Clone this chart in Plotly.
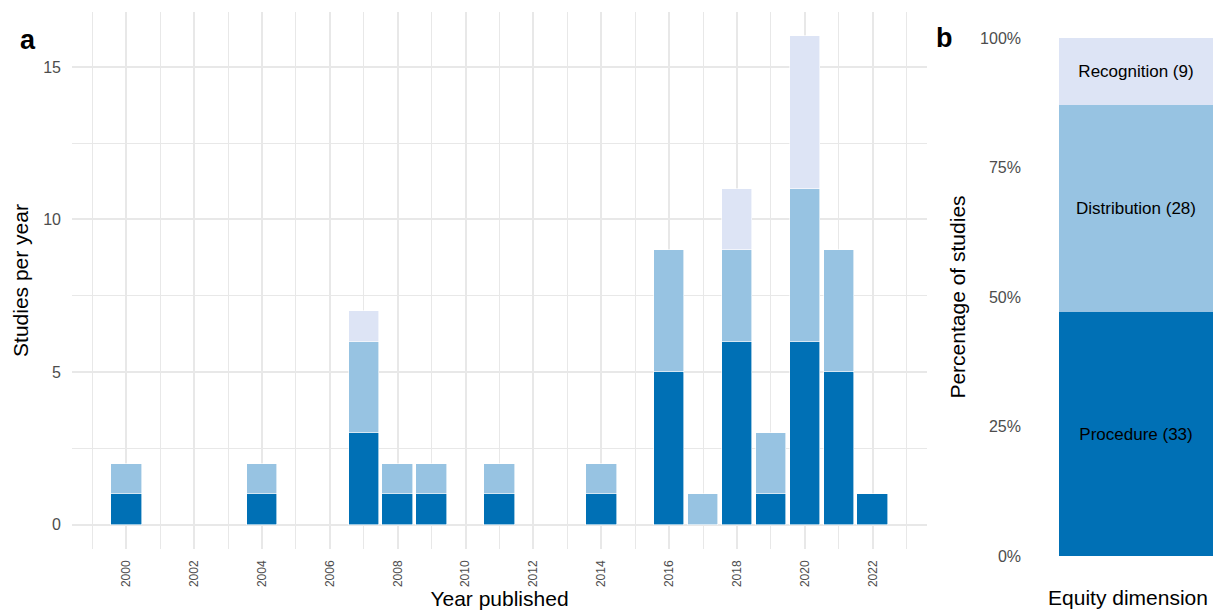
import plotly.graph_objects as go

# Studies per publication year, split by equity dimension
years = [2000, 2004, 2007, 2008, 2009, 2011, 2014, 2016, 2017, 2018, 2019, 2020, 2021, 2022]
procedure = [1, 1, 3, 1, 1, 1, 1, 5, None, 6, 1, 6, 5, 1]
distribution = [1, 1, 3, 1, 1, 1, 1, 4, 1, 3, 2, 5, 4, None]
recognition = [None, None, 1, None, None, None, None, None, None, 2, None, 5, None, None]

# Totals per equity dimension
dimensions = ["Procedure", "Distribution", "Recognition"]
dimension_counts = [33, 28, 9]

# Axis ticks
count_ticks = [0, 5, 10, 15]
pct_ticks = [0, 25, 50, 75, 100]
pct_tick_labels = ["0%", "25%", "50%", "75%", "100%"]

colors = {"Procedure": "#0070B5", "Distribution": "#97C3E2", "Recognition": "#DDE4F5"}

W, H = 1229, 615


def px_x(p):
    return p / W


def px_y(p):
    return 1 - p / H


fig = go.Figure()

for name, vals in zip(dimensions, [procedure, distribution, recognition]):
    fig.add_trace(go.Bar(
        x=years, y=vals, name=name, width=0.9,
        marker=dict(color=colors[name], line=dict(color="white", width=0.6)),
        xaxis="x", yaxis="y", showlegend=False, hoverinfo="x+y+name",
    ))

total = sum(dimension_counts)
for name, cnt in zip(dimensions, dimension_counts):
    fig.add_trace(go.Bar(
        x=[0], y=[cnt / total * 100], name=name, width=1,
        marker=dict(color=colors[name], line=dict(width=0)),
        text=[f"{name} ({cnt})"], textposition="inside", insidetextanchor="middle",
        textangle=0, textfont=dict(color="black", size=17, family="Liberation Sans"),
        xaxis="x2", yaxis="y2", showlegend=False,
    ))

grid = "#E8E8E8"
tick_font = dict(family="Liberation Sans", size=16, color="#4D4D4D")
title_font = dict(family="Liberation Sans", size=21, color="black")
panel_font = dict(family="Liberation Sans", size=27, color="black")

fig.update_layout(
    width=W, height=H,
    margin=dict(l=0, r=0, t=0, b=0),
    paper_bgcolor="white", plot_bgcolor="white",
    barmode="stack", bargap=0,
    font=dict(family="Liberation Sans"),
    xaxis=dict(
        domain=[px_x(72), px_x(927)], range=[1998.4, 2023.6],
        tickmode="linear", tick0=2000, dtick=2, tickangle=-90,
        tickfont=dict(family="Liberation Sans", size=12, color="#4D4D4D"),
        showgrid=True, gridcolor=grid, gridwidth=1.6, zeroline=False,
        minor=dict(tickmode="linear", tick0=1999, dtick=2, showgrid=True, gridcolor=grid, gridwidth=1.1),
        ticks="", ticklabelstandoff=8,
        title=dict(text="Year published", font=title_font, standoff=4),
        anchor="y", automargin=False, fixedrange=True,
    ),
    yaxis=dict(
        domain=[px_y(549), px_y(12)], range=[-0.8, 16.8],
        tickmode="array", tickvals=count_ticks,
        tickfont=tick_font,
        showgrid=True, gridcolor=grid, gridwidth=1.6, zeroline=False,
        minor=dict(tickmode="array", tickvals=[2.5, 7.5, 12.5], showgrid=True, gridcolor=grid, gridwidth=1.1),
        ticks="", ticklabelstandoff=10,
        title=dict(text="Studies per year", font=title_font, standoff=8),
        anchor="x", automargin=False, fixedrange=True,
    ),
    xaxis2=dict(
        domain=[px_x(1027), px_x(1229)], range=[-0.708, 0.604],
        showticklabels=False, showgrid=False, zeroline=False, ticks="",
        title=dict(text="Equity dimension", font=title_font, standoff=8),
        anchor="y2", automargin=False, fixedrange=True,
    ),
    yaxis2=dict(
        domain=[px_y(582), px_y(12)], range=[-5, 105],
        tickmode="array", tickvals=pct_ticks, ticktext=pct_tick_labels,
        tickfont=tick_font, showgrid=False, zeroline=False,
        ticks="", ticklabelstandoff=5,
        title=dict(text="Percentage of studies", font=title_font, standoff=8),
        anchor="x2", automargin=False, fixedrange=True,
    ),
    annotations=[
        dict(text="<b>a</b>", x=px_x(18), y=px_y(23), xref="paper", yref="paper",
             showarrow=False, font=panel_font),
        dict(text="<b>b</b>", x=px_x(955), y=px_y(21), xref="paper", yref="paper",
             showarrow=False, font=panel_font),
    ],
)

fig.write_html("out.html")
